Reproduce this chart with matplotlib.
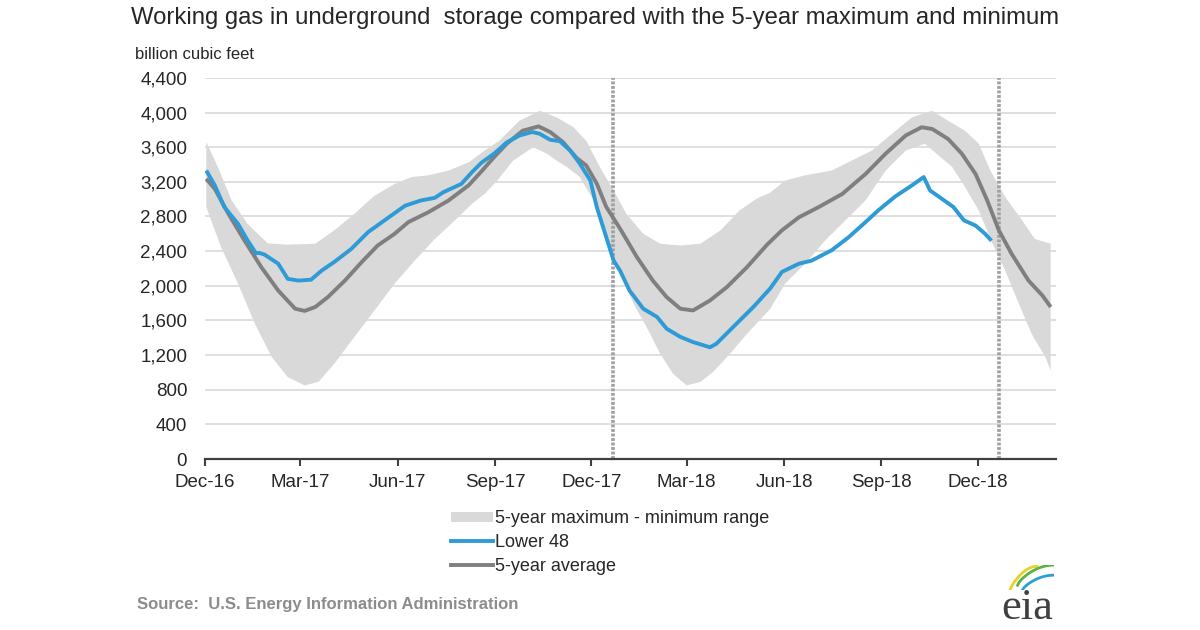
import matplotlib
matplotlib.use("Agg")
import matplotlib.pyplot as plt
import matplotlib.dates as mdates
import matplotlib.ticker as ticker
from matplotlib.patches import Patch
from matplotlib.lines import Line2D
import numpy as np
import pandas as pd

# Lower 48 working gas (billion cubic feet)
l48_dates = ["2016-12-02", "2016-12-10", "2016-12-19", "2017-01-01", "2017-01-10", "2017-01-18",
             "2017-01-21", "2017-01-26", "2017-02-08", "2017-02-17", "2017-02-27", "2017-03-11",
             "2017-03-21", "2017-04-02", "2017-04-18", "2017-05-04", "2017-05-20", "2017-06-08",
             "2017-06-23", "2017-07-06", "2017-07-14", "2017-07-31", "2017-08-10", "2017-08-19",
             "2017-08-31", "2017-09-12", "2017-09-24", "2017-10-06", "2017-10-13", "2017-10-23",
             "2017-11-01", "2017-11-11", "2017-11-20", "2017-11-30", "2017-12-06", "2017-12-15",
             "2017-12-22", "2017-12-28", "2018-01-06", "2018-01-19", "2018-02-01", "2018-02-10",
             "2018-02-23", "2018-03-07", "2018-03-23", "2018-03-29", "2018-04-14", "2018-05-03",
             "2018-05-19", "2018-05-30", "2018-06-15", "2018-06-27", "2018-07-16", "2018-08-01",
             "2018-08-17", "2018-08-29", "2018-09-14", "2018-09-30", "2018-10-11", "2018-10-17",
             "2018-10-28", "2018-11-08", "2018-11-18", "2018-11-29", "2018-12-08", "2018-12-14"]
l48_bcf = [3330, 3160, 2910, 2715, 2525, 2375,
           2380, 2360, 2255, 2080, 2060, 2070,
           2175, 2275, 2425, 2620, 2760, 2925,
           2985, 3015, 3080, 3175, 3310, 3420,
           3525, 3655, 3735, 3775, 3755, 3685,
           3670, 3560, 3410, 3215, 2910, 2560,
           2290, 2175, 1945, 1735, 1640, 1505,
           1410, 1350, 1290, 1330, 1525, 1755,
           1970, 2160, 2255, 2290, 2410, 2560,
           2735, 2870, 3030, 3160, 3255, 3100,
           3005, 2910, 2755, 2695, 2600, 2520]

# 5-year average
avg_dates = ["2016-12-02", "2016-12-10", "2016-12-23", "2017-01-07", "2017-01-23", "2017-02-08",
             "2017-02-24", "2017-03-05", "2017-03-15", "2017-03-27", "2017-04-12", "2017-04-28",
             "2017-05-13", "2017-05-29", "2017-06-11", "2017-06-30", "2017-07-19", "2017-08-07",
             "2017-08-19", "2017-08-31", "2017-09-12", "2017-09-27", "2017-10-12", "2017-10-23",
             "2017-11-04", "2017-11-17", "2017-11-26", "2017-12-06", "2017-12-15", "2017-12-28",
             "2018-01-13", "2018-01-28", "2018-02-10", "2018-02-23", "2018-03-07", "2018-03-23",
             "2018-04-08", "2018-04-27", "2018-05-16", "2018-05-30", "2018-06-15", "2018-07-04",
             "2018-07-26", "2018-08-17", "2018-09-05", "2018-09-24", "2018-10-09", "2018-10-19",
             "2018-11-03", "2018-11-16", "2018-11-29", "2018-12-10", "2018-12-21", "2019-01-02",
             "2019-01-18", "2019-01-31", "2019-02-08"]
avg_bcf = [3235, 3120, 2830, 2525, 2215, 1945,
           1735, 1710, 1755, 1870, 2060, 2275,
           2465, 2600, 2735, 2850, 2985, 3160,
           3320, 3485, 3640, 3790, 3840, 3775,
           3660, 3475, 3390, 3180, 2910, 2660,
           2330, 2060, 1870, 1735, 1715, 1830,
           1985, 2215, 2475, 2640, 2790, 2910,
           3060, 3290, 3525, 3735, 3830, 3810,
           3695, 3525, 3290, 2985, 2640, 2370,
           2060, 1890, 1755]

# 5-year maximum
max_dates = ["2016-12-02", "2016-12-13", "2016-12-26", "2017-01-10", "2017-01-29", "2017-02-17",
             "2017-03-15", "2017-04-02", "2017-04-21", "2017-05-10", "2017-05-29", "2017-06-14",
             "2017-06-30", "2017-07-19", "2017-08-07", "2017-08-22", "2017-09-05", "2017-09-24",
             "2017-10-13", "2017-10-29", "2017-11-14", "2017-11-26", "2017-12-09", "2017-12-22",
             "2018-01-03", "2018-01-19", "2018-02-04", "2018-02-23", "2018-03-14", "2018-04-02",
             "2018-04-20", "2018-05-06", "2018-05-19", "2018-06-02", "2018-06-21", "2018-07-16",
             "2018-08-04", "2018-08-23", "2018-09-11", "2018-09-30", "2018-10-19", "2018-11-03",
             "2018-11-19", "2018-12-02", "2018-12-13", "2018-12-27", "2019-01-12", "2019-01-24",
             "2019-02-08"]
max_bcf = [3660, 3370, 2985, 2715, 2490, 2475,
           2485, 2640, 2830, 3040, 3175, 3255,
           3275, 3330, 3425, 3560, 3675, 3905,
           4020, 3945, 3830, 3675, 3370, 3100,
           2830, 2600, 2485, 2465, 2485, 2640,
           2870, 3005, 3075, 3215, 3275, 3330,
           3445, 3560, 3755, 3945, 4020, 3905,
           3790, 3640, 3330, 3025, 2755, 2540,
           2485]

# 5-year minimum
min_dates = ["2016-12-02", "2016-12-16", "2017-01-01", "2017-01-17", "2017-02-02", "2017-02-17",
             "2017-03-05", "2017-03-18", "2017-04-02", "2017-04-21", "2017-05-10", "2017-05-29",
             "2017-06-17", "2017-07-06", "2017-07-25", "2017-08-10", "2017-08-22", "2017-09-03",
             "2017-09-18", "2017-10-07", "2017-10-20", "2017-10-29", "2017-11-08", "2017-11-20",
             "2017-12-03", "2017-12-15", "2017-12-28", "2018-01-10", "2018-01-22", "2018-02-04",
             "2018-02-16", "2018-03-01", "2018-03-14", "2018-03-26", "2018-04-08", "2018-04-27",
             "2018-05-19", "2018-06-02", "2018-06-21", "2018-07-10", "2018-07-29", "2018-08-17",
             "2018-09-05", "2018-09-24", "2018-10-12", "2018-10-25", "2018-11-07", "2018-11-19",
             "2018-12-02", "2018-12-15", "2018-12-27", "2019-01-09", "2019-01-21", "2019-02-03",
             "2019-02-08"]
min_bcf = [2910, 2445, 2025, 1560, 1175, 945,
           850, 890, 1100, 1410, 1715, 2025,
           2290, 2540, 2755, 2945, 3060, 3215,
           3445, 3600, 3525, 3445, 3370, 3255,
           2985, 2560, 2140, 1790, 1525, 1215,
           985, 850, 890, 1005, 1175, 1445,
           1735, 2025, 2255, 2525, 2755, 2985,
           3330, 3560, 3640, 3505, 3370, 3140,
           2870, 2485, 2175, 1790, 1445, 1175,
           1025]

divider_dates = ["2017-12-21", "2018-12-21"]

l48_dates = pd.to_datetime(l48_dates)
avg_dates = pd.to_datetime(avg_dates)
max_dates = pd.to_datetime(max_dates)
min_dates = pd.to_datetime(min_dates)

plt.rcParams["font.family"] = ["Liberation Sans", "DejaVu Sans"]

fig = plt.figure(figsize=(12, 6.3), dpi=100)
ax = fig.add_axes([0.171, 0.2714, 0.709, 0.605])

# shaded max - min band
band_x = np.concatenate([max_dates.values, min_dates.values[::-1]])
band_y = np.concatenate([max_bcf, min_bcf[::-1]])
ax.fill(band_x, band_y, color="#d9d9d9", lw=0, zorder=1)

for d in divider_dates:
    ax.axvline(pd.Timestamp(d), color="#a0a0a0", lw=2.6, ls=(0, (0.8, 0.45)), zorder=2)

ax.plot(avg_dates, avg_bcf, color="#7f7f7f", lw=2.8, zorder=3, solid_capstyle="butt")
ax.plot(l48_dates, l48_bcf, color="#2e9bd6", lw=2.8, zorder=4, solid_capstyle="butt")

ax.set_ylim(0, 4400)
ax.set_xlim(pd.Timestamp("2016-12-01"), pd.Timestamp("2019-02-13"))
ax.yaxis.set_major_locator(ticker.MultipleLocator(400))
ax.yaxis.set_major_formatter(ticker.StrMethodFormatter("{x:,.0f}"))
ax.xaxis.set_major_locator(mdates.MonthLocator(bymonth=[3, 6, 9, 12], bymonthday=1))
ax.xaxis.set_major_formatter(mdates.DateFormatter("%b-%y"))

ax.grid(axis="y", color="#d9d9d9", lw=1.2, zorder=0)
ax.set_axisbelow(True)
for s in ["top", "right", "left"]:
    ax.spines[s].set_visible(False)
ax.spines["bottom"].set_color("#404040")
ax.spines["bottom"].set_linewidth(1.6)
ax.spines["bottom"].set_zorder(5)
ax.tick_params(axis="y", length=0, pad=13, labelsize=13.5, labelcolor="#262626")
ax.tick_params(axis="x", direction="out", length=5, width=1.5, color="#404040",
               pad=6, labelsize=13.5, labelcolor="#262626")

fig.text(0.4958, 0.972, "Working gas in underground  storage compared with the 5-year maximum and minimum",
         ha="center", va="center", fontsize=17.2, color="#262626")
fig.text(0.1125, 0.914, "billion cubic feet", ha="left", va="center", fontsize=12, color="#262626")

handles = [Patch(facecolor="#d9d9d9", edgecolor="none"),
           Line2D([], [], color="#2e9bd6", lw=2.8),
           Line2D([], [], color="#7f7f7f", lw=2.8)]
labels = ["5-year maximum - minimum range", "Lower 48", "5-year average"]
fig.legend(handles, labels, loc="upper left", bbox_to_anchor=(0.376, 0.19), frameon=False,
           fontsize=13, handlelength=2.3, handleheight=0.5, handletextpad=0.15, labelspacing=0.38,
           borderpad=0, borderaxespad=0, labelcolor="#262626")

fig.text(0.114, 0.041, "Source:  U.S. Energy Information Administration", ha="left", va="center",
         fontsize=12, fontweight="bold", color="#8c8c8c")

# eia logo
fig.text(0.856, 0.017, "eia", ha="center", va="baseline", fontsize=32, color="#404040",
         family="Liberation Serif")
logo = fig.add_axes([0.838, 0.063, 0.040, 0.040])
logo.axis("off")
t = np.linspace(0, 1, 30)
logo.plot(0.1 + 0.55 * t, 0.05 + 0.9 * np.sin(t * np.pi / 2) ** 0.8, color="#e6d229", lw=2.0)
logo.plot(0.25 + 0.75 * t, 0.2 + 0.8 * np.sin(t * np.pi / 2) ** 0.7, color="#5cb345", lw=2.0)
logo.plot(0.35 + 0.65 * t, 0.0 + 0.6 * np.sin(t * np.pi / 2) ** 0.7, color="#2aa0d8", lw=2.0)
logo.set_xlim(0, 1)
logo.set_ylim(0, 1)

fig.savefig("out.png", dpi=100)
